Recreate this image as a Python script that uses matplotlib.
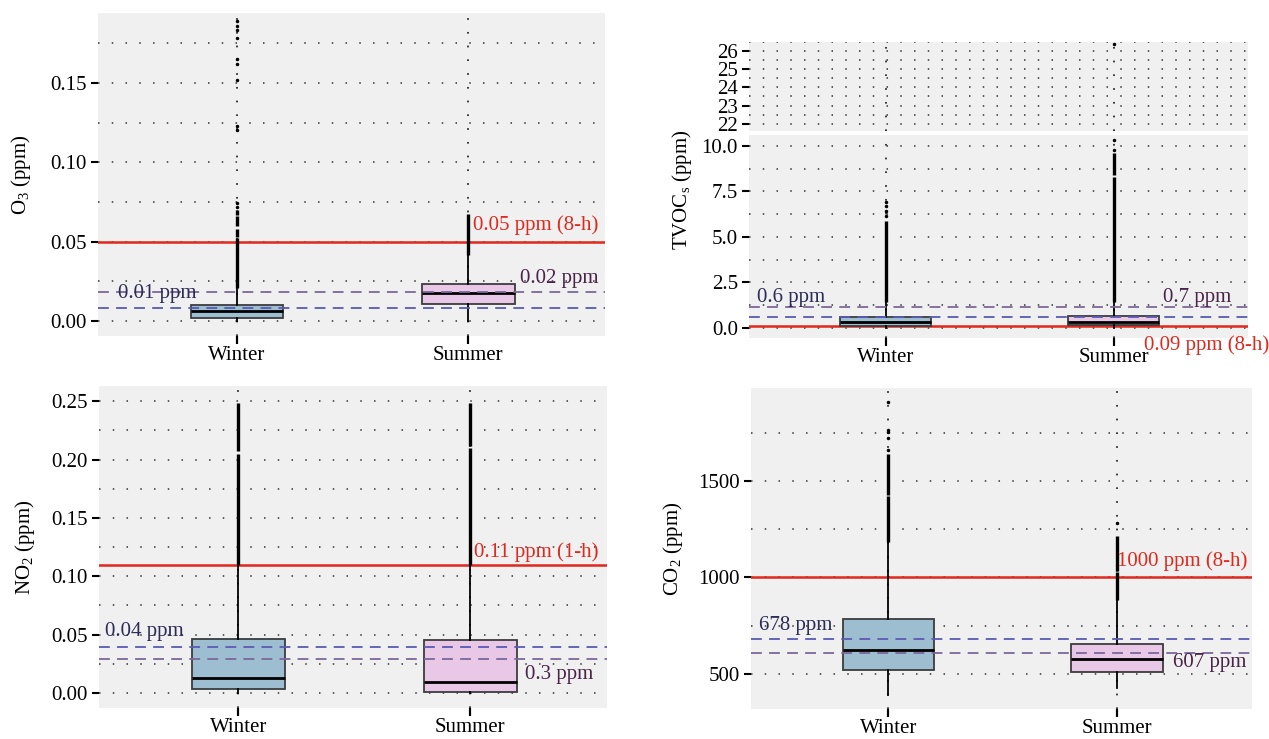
import matplotlib
matplotlib.use("Agg")
import matplotlib.pyplot as plt
from matplotlib.ticker import MultipleLocator, FixedLocator

plt.rcParams['font.family'] = ['Liberation Serif', 'DejaVu Serif']
plt.rcParams['mathtext.fontset'] = 'custom'
plt.rcParams['mathtext.rm'] = 'Liberation Serif'
plt.rcParams['mathtext.it'] = 'Liberation Serif:italic'

# ---------------- data ----------------
seasons = ["Winter", "Summer"]

# O3 (ppm)
o3_q1 = [0.0021, 0.0109]
o3_med = [0.0062, 0.0173]
o3_q3 = [0.0103, 0.0231]
o3_whislo = [0.0, 0.0]
o3_whishi = [0.0205, 0.0415]
o3_bands = [[(0.0205, 0.052), (0.053, 0.058), (0.060, 0.066), (0.067, 0.070)],
            [(0.0415, 0.0673)]]
o3_sparse = [[0.072, 0.074, 0.120, 0.123, 0.152, 0.162, 0.165, 0.178, 0.183, 0.186, 0.189],
             []]
o3_limit = 0.05
o3_means = [0.0083, 0.0181]

# TVOCs (ppm)
tv_q1 = [0.11, 0.16]
tv_med = [0.34, 0.31]
tv_q3 = [0.62, 0.67]
tv_whislo = [0.0, 0.0]
tv_whishi = [1.4, 1.4]
tv_bands = [[(1.4, 5.9)], [(1.4, 8.3), (8.4, 9.6)]]
tv_sparse = [[6.15, 6.45, 6.7, 6.9], [9.8, 10.35, 26.4]]
tv_limit = 0.09
tv_means = [0.58, 1.16]

# NO2 (ppm)
no2_q1 = [0.0031, 0.0011]
no2_med = [0.0131, 0.0096]
no2_q3 = [0.0467, 0.0452]
no2_whislo = [0.0, 0.0]
no2_whishi = [0.110, 0.110]
no2_bands = [[(0.110, 0.205), (0.207, 0.2485)], [(0.110, 0.210), (0.212, 0.2485)]]
no2_sparse = [[], []]
no2_limit = 0.11
no2_means = [0.0395, 0.0293]

# CO2 (ppm)
co2_q1 = [521, 509]
co2_med = [624, 576]
co2_q3 = [785, 655]
co2_whislo = [391, 426]
co2_whishi = [1185, 883]
co2_bands = [[(1185, 1420), (1425, 1640)], [(883, 1030), (1035, 1215)]]
co2_sparse = [[1660, 1722, 1755, 1765, 1910], [1282]]
co2_limit = 1000
co2_means = [680, 607]

# ---------------- style ----------------
BOX_COLORS = ['#9dbdd0', '#e8c8e6']
BLUE_DASH = '#5a5ab4'
PURP_DASH = '#7a6898'
NAVY_TXT = '#2b2b55'
PURP_TXT = '#4a2448'
RED = '#e0281c'
BG = '#f0f0f0'
FS = 15
GRID_KW = dict(color='#333333', linestyle=(0, (1, 8)), linewidth=1.1)

W, H = 1269, 739
fig = plt.figure(figsize=(W / 100, H / 100), dpi=100)


def ax_at(l, t, r, b):
    return fig.add_axes([l / W, 1 - b / H, (r - l) / W, (b - t) / H])


def style_axes(ax, major, minor, show_x=True):
    ax.set_facecolor(BG)
    for s in ax.spines.values():
        s.set_visible(False)
    ax.set_xlim(-0.6, 1.59)
    ax.yaxis.set_major_locator(MultipleLocator(major))
    ax.yaxis.set_minor_locator(MultipleLocator(minor))
    ax.set_xticks([0, 1])
    ax.grid(True, which='both', axis='y', **GRID_KW)
    ax.grid(True, which='major', axis='x', **GRID_KW)
    ax.set_axisbelow(True)
    ax.tick_params(axis='y', which='major', direction='out', length=5, width=1.5,
                   pad=3, labelsize=FS, color='black')
    ax.tick_params(axis='y', which='minor', length=0)
    if show_x:
        ax.set_xticklabels(seasons)
        ax.tick_params(axis='x', direction='out', length=6, width=1.5, pad=1,
                       labelsize=FS, color='black')
    else:
        ax.tick_params(axis='x', length=0, labelbottom=False)


def draw_boxes(ax, q1, med, q3, lo, hi, bands, sparse):
    stats = []
    for i in range(2):
        stats.append(dict(q1=q1[i], med=med[i], q3=q3[i], whislo=lo[i], whishi=hi[i],
                          fliers=sparse[i], label=seasons[i]))
    bp = ax.bxp(stats, positions=[0, 1], widths=0.4, patch_artist=True,
                showcaps=False, showfliers=True,
                boxprops=dict(edgecolor='#3c3c3c', linewidth=1.3),
                medianprops=dict(color='black', linewidth=2.0),
                whiskerprops=dict(color='black', linewidth=1.3),
                flierprops=dict(marker='o', markersize=1.5, markerfacecolor='black',
                                markeredgecolor='black', linestyle='none'),
                zorder=3)
    for patch, c in zip(bp['boxes'], BOX_COLORS):
        patch.set_facecolor(c)
    for i in range(2):
        for (a, b) in bands[i]:
            ax.vlines(i, a, b, color='black', linewidth=2.4, zorder=3.2)


def draw_refs(ax, limit, means):
    ax.axhline(limit, color=RED, linewidth=1.8, zorder=2.8)
    ax.axhline(means[0], color=BLUE_DASH, linestyle=(0, (6, 4)), linewidth=1.3, zorder=4)
    ax.axhline(means[1], color=PURP_DASH, linestyle=(0, (6, 4)), linewidth=1.3, zorder=4)


# ---------------- O3 ----------------
ax1 = ax_at(98, 13, 605, 336)
style_axes(ax1, 0.05, 0.025)
ax1.set_ylim(-0.0095, 0.194)
ax1.yaxis.set_major_formatter(plt.FormatStrFormatter('%.2f'))
draw_boxes(ax1, o3_q1, o3_med, o3_q3, o3_whislo, o3_whishi, o3_bands, o3_sparse)
draw_refs(ax1, o3_limit, o3_means)
ax1.text(1.02, 0.0603, '0.05 ppm (8-h)', color=RED, fontsize=FS, va='center', ha='left', zorder=5)
ax1.text(1.224, 0.0269, '0.02 ppm', color=PURP_TXT, fontsize=FS, va='center', ha='left', zorder=5)
ax1.text(-0.513, 0.0173, '0.01 ppm', color=NAVY_TXT, fontsize=FS, va='center', ha='left', zorder=5)
ax1.set_ylabel('O$_3$ (ppm)', fontsize=FS)
ax1.yaxis.set_label_coords(-0.128, 0.5)

# ---------------- TVOCs (broken axis) ----------------
ax2u = ax_at(749, 42, 1248, 131)
style_axes(ax2u, 1, 0.5, show_x=False)
ax2u.set_ylim(21.6, 26.5)
ax2u.yaxis.set_major_locator(FixedLocator([22, 23, 24, 25, 26]))
draw_boxes(ax2u, tv_q1, tv_med, tv_q3, tv_whislo, tv_whishi, tv_bands, tv_sparse)

ax2 = ax_at(749, 135, 1248, 338)
style_axes(ax2, 2.5, 1.25)
ax2.set_ylim(-0.55, 10.6)
ax2.yaxis.set_major_formatter(plt.FormatStrFormatter('%.1f'))
draw_boxes(ax2, tv_q1, tv_med, tv_q3, tv_whislo, tv_whishi, tv_bands, tv_sparse)
draw_refs(ax2, tv_limit, tv_means)
ax2.text(-0.564, 1.69, '0.6 ppm', color=NAVY_TXT, fontsize=FS, va='center', ha='left', zorder=5)
ax2.text(1.217, 1.69, '0.7 ppm', color=PURP_TXT, fontsize=FS, va='center', ha='left', zorder=5)
ax2.text(1.133, -0.93, '0.09 ppm (8-h)', color=RED, fontsize=FS, va='center', ha='left',
         zorder=5, clip_on=False)
ax2.set_ylabel('TVOC$_\\mathrm{s}$ (ppm)', fontsize=FS)
ax2.yaxis.set_label_coords(-0.110, 0.729)

# ---------------- NO2 ----------------
ax3 = ax_at(99, 386, 607, 708)
style_axes(ax3, 0.05, 0.025)
ax3.set_ylim(-0.0128, 0.263)
ax3.yaxis.set_major_formatter(plt.FormatStrFormatter('%.2f'))
draw_boxes(ax3, no2_q1, no2_med, no2_q3, no2_whislo, no2_whishi, no2_bands, no2_sparse)
draw_refs(ax3, no2_limit, no2_means)
ax3.text(1.017, 0.1205, '0.11 ppm (1-h)', color=RED, fontsize=FS, va='center', ha='left', zorder=5)
ax3.text(1.237, 0.0162, '0.3 ppm', color=PURP_TXT, fontsize=FS, va='center', ha='left', zorder=5)
ax3.text(-0.573, 0.0531, '0.04 ppm', color=NAVY_TXT, fontsize=FS, va='center', ha='left', zorder=5)
ax3.set_ylabel('NO$_2$ (ppm)', fontsize=FS)
ax3.yaxis.set_label_coords(-0.123, 0.5)

# ---------------- CO2 ----------------
ax4 = ax_at(751, 388, 1252, 709)
style_axes(ax4, 500, 250)
ax4.set_ylim(318, 1982)
draw_boxes(ax4, co2_q1, co2_med, co2_q3, co2_whislo, co2_whishi, co2_bands, co2_sparse)
draw_refs(ax4, co2_limit, co2_means)
ax4.text(1.0, 1085, '1000 ppm (8-h)', color=RED, fontsize=FS, va='center', ha='left', zorder=5)
ax4.text(1.243, 561, '607 ppm', color=PURP_TXT, fontsize=FS, va='center', ha='left', zorder=5)
ax4.text(-0.567, 749, '678 ppm', color=NAVY_TXT, fontsize=FS, va='center', ha='left', zorder=5)
ax4.set_ylabel('CO$_2$ (ppm)', fontsize=FS)
ax4.yaxis.set_label_coords(-0.132, 0.5)

fig.savefig('out.png', dpi=100)
